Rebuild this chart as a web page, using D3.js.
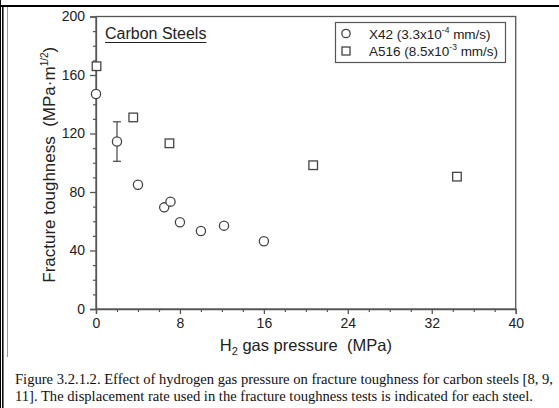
<!DOCTYPE html>
<html><head><meta charset="utf-8">
<script src="https://cdn.jsdelivr.net/npm/d3@7/dist/d3.min.js"></script>
<style>
html,body{margin:0;padding:0;background:#fff;}
svg{display:block;}
</style></head>
<body>
<svg id="chart" width="559" height="408"></svg>
<script>
// ---- data ----
const x42Pressure  = [0, 2, 4, 6.5, 7.1, 8, 10, 12.2, 16];
const x42Toughness = [147, 114.5, 85, 69.5, 73.4, 59.3, 53.3, 57, 46.3];
const x42ErrorLow  = [null, 101, null, null, null, null, null, null, null];
const x42ErrorHigh = [null, 128, null, null, null, null, null, null, null];
const a516Pressure  = [0.05, 3.55, 7, 20.7, 34.4];
const a516Toughness = [166, 131, 113.3, 98.3, 90.5];
const xTicks = [0, 8, 16, 24, 32, 40];
const yTicks = [0, 40, 80, 120, 160, 200];
const legendLabels = [["X42 (3.3x10", "-4", " mm/s)"], ["A516 (8.5x10", "-3", " mm/s)"]];
const captionLines = [
  "Figure 3.2.1.2. Effect of hydrogen gas pressure on fracture toughness for carbon steels [8, 9,",
  "11]. The displacement rate used in the fracture toughness tests is indicated for each steel."
];

(function(){
const svg = d3.select("#chart");
const W = 559, H = 408;
const axisCol = "#555", markCol = "#444";

// document frame
svg.append("line").attr("x1",0).attr("x2",W).attr("y1",6).attr("y2",6).attr("stroke","#000").attr("stroke-width",2);
svg.append("line").attr("x1",0.5).attr("x2",0.5).attr("y1",0).attr("y2",H).attr("stroke","#000").attr("stroke-width",1);
svg.append("line").attr("x1",2.8).attr("x2",2.8).attr("y1",6).attr("y2",H).attr("stroke","#000").attr("stroke-width",1.5);
svg.append("line").attr("x1",7.5).attr("x2",7.5).attr("y1",7).attr("y2",357).attr("stroke","#999").attr("stroke-width",1);

const pL = 96, pR = 515.7, pT = 16.5, pB = 309;
const x = d3.scaleLinear().domain([0,40]).range([pL,pR]);
const y = d3.scaleLinear().domain([0,200]).range([pB,pT]);

const font = "Arial, 'Liberation Sans', sans-serif";

// frame (top & right without ticks)
svg.append("rect").attr("x",pL).attr("y",pT).attr("width",pR-pL).attr("height",pB-pT)
  .attr("fill","none").attr("stroke",axisCol).attr("stroke-width",1.3);

// x axis
const xAxis = d3.axisBottom(x).tickValues(xTicks).tickSize(5).tickPadding(4).tickFormat(d3.format("d"));
const gx = svg.append("g").attr("transform",`translate(0,${pB})`).call(xAxis);
gx.select(".domain").attr("stroke",axisCol).attr("stroke-width",1.3);
gx.selectAll(".tick line").attr("stroke",axisCol).attr("stroke-width",1.3);
gx.selectAll(".tick text").attr("font-family",font).attr("font-size",14).attr("fill","#222");
const xMinor = d3.range(0,40.1,2).filter(v=>v%8!==0);
const gxm = svg.append("g").attr("transform",`translate(0,${pB})`)
  .call(d3.axisBottom(x).tickValues(xMinor).tickSize(3).tickFormat(""));
gxm.select(".domain").remove();
gxm.selectAll(".tick line").attr("stroke",axisCol).attr("stroke-width",1.2);

// y axis
const yAxis = d3.axisLeft(y).tickValues(yTicks).tickSize(6).tickPadding(5).tickFormat(d3.format("d"));
const gy = svg.append("g").attr("transform",`translate(${pL},0)`).call(yAxis);
gy.select(".domain").attr("stroke",axisCol).attr("stroke-width",1.3);
gy.selectAll(".tick line").attr("stroke",axisCol).attr("stroke-width",1.3);
gy.selectAll(".tick text").attr("font-family",font).attr("font-size",14).attr("fill","#222");
const yMinor = d3.range(0,200.1,10).filter(v=>v%40!==0);
const gym = svg.append("g").attr("transform",`translate(${pL},0)`)
  .call(d3.axisLeft(y).tickValues(yMinor).tickSize(3).tickFormat(""));
gym.select(".domain").remove();
gym.selectAll(".tick line").attr("stroke",axisCol).attr("stroke-width",1.2);

// axis titles
const xt = svg.append("text").attr("x",(pL+pR)/2).attr("y",351).attr("text-anchor","middle")
  .attr("font-family",font).attr("font-size",16.5).attr("fill","#222");
xt.append("tspan").text("H");
xt.append("tspan").attr("font-size",11).attr("dy",4).text("2");
xt.append("tspan").attr("dy",-4).text(" gas pressure\u00a0\u00a0(MPa)");

const yt = svg.append("text").attr("transform",`translate(55,${(pT+pB)/2+2}) rotate(-90)`).attr("text-anchor","middle")
  .attr("font-family",font).attr("font-size",17).attr("fill","#222");
yt.append("tspan").text("Fracture toughness\u00a0\u00a0(MPa\u00b7m");
yt.append("tspan").attr("font-size",10).attr("dy",-7).text("1/2");
yt.append("tspan").attr("dy",7).text(")");

// "Carbon Steels" label
const cs = svg.append("text").attr("x",105).attr("y",39).attr("font-family",font).attr("font-size",16).attr("fill","#222").text("Carbon Steels");
const csw = cs.node().getComputedTextLength();
svg.append("line").attr("x1",105).attr("x2",105+csw).attr("y1",42.5).attr("y2",42.5).attr("stroke","#222").attr("stroke-width",1.2);

// error bars
const errIdx = x42Pressure.map((d,i)=>i).filter(i=>x42ErrorLow[i]!=null);
const eg = svg.append("g").attr("stroke",markCol).attr("stroke-width",1.2);
errIdx.forEach(i=>{
  const cx = x(x42Pressure[i]);
  eg.append("line").attr("x1",cx).attr("x2",cx).attr("y1",y(x42ErrorLow[i])).attr("y2",y(x42ErrorHigh[i]));
  eg.append("line").attr("x1",cx-4).attr("x2",cx+4).attr("y1",y(x42ErrorLow[i])).attr("y2",y(x42ErrorLow[i]));
  eg.append("line").attr("x1",cx-4).attr("x2",cx+4).attr("y1",y(x42ErrorHigh[i])).attr("y2",y(x42ErrorHigh[i]));
});

// circles (X42)
svg.append("g").selectAll("circle").data(x42Pressure.map((p,i)=>[p,x42Toughness[i]])).join("circle")
  .attr("cx",d=>x(d[0])).attr("cy",d=>y(d[1])).attr("r",4.6)
  .attr("fill","#fff").attr("stroke",markCol).attr("stroke-width",1.3);

// squares (A516)
const sq = 8.6;
svg.append("g").selectAll("rect").data(a516Pressure.map((p,i)=>[p,a516Toughness[i]])).join("rect")
  .attr("x",d=>x(d[0])-sq/2).attr("y",d=>y(d[1])-sq/2).attr("width",sq).attr("height",sq)
  .attr("fill","#fff").attr("stroke",markCol).attr("stroke-width",1.3);

// legend
svg.append("rect").attr("x",335.5).attr("y",22.5).attr("width",170).attr("height",40)
  .attr("fill","#fff").attr("stroke",axisCol).attr("stroke-width",1.2);
svg.append("circle").attr("cx",346).attr("cy",33.5).attr("r",4.2).attr("fill","#fff").attr("stroke",markCol).attr("stroke-width",1.3);
svg.append("rect").attr("x",346-4).attr("y",51-4).attr("width",8).attr("height",8).attr("fill","#fff").attr("stroke",markCol).attr("stroke-width",1.3);
legendLabels.forEach((parts,i)=>{
  const t = svg.append("text").attr("x",369).attr("y",38.5+i*17).attr("font-family",font).attr("font-size",13.5).attr("fill","#222");
  t.append("tspan").text(parts[0]);
  t.append("tspan").attr("font-size",8.5).attr("dy",-6).text(parts[1]);
  t.append("tspan").attr("dy",6).text(parts[2]);
});

// caption
captionLines.forEach((line,i)=>{
  svg.append("text").attr("x",15).attr("y",384+i*16.5).attr("font-family","'Liberation Serif', 'Times New Roman', serif")
    .attr("font-size",14.6).attr("fill","#111").text(line);
});
})();
</script>
</body></html>
